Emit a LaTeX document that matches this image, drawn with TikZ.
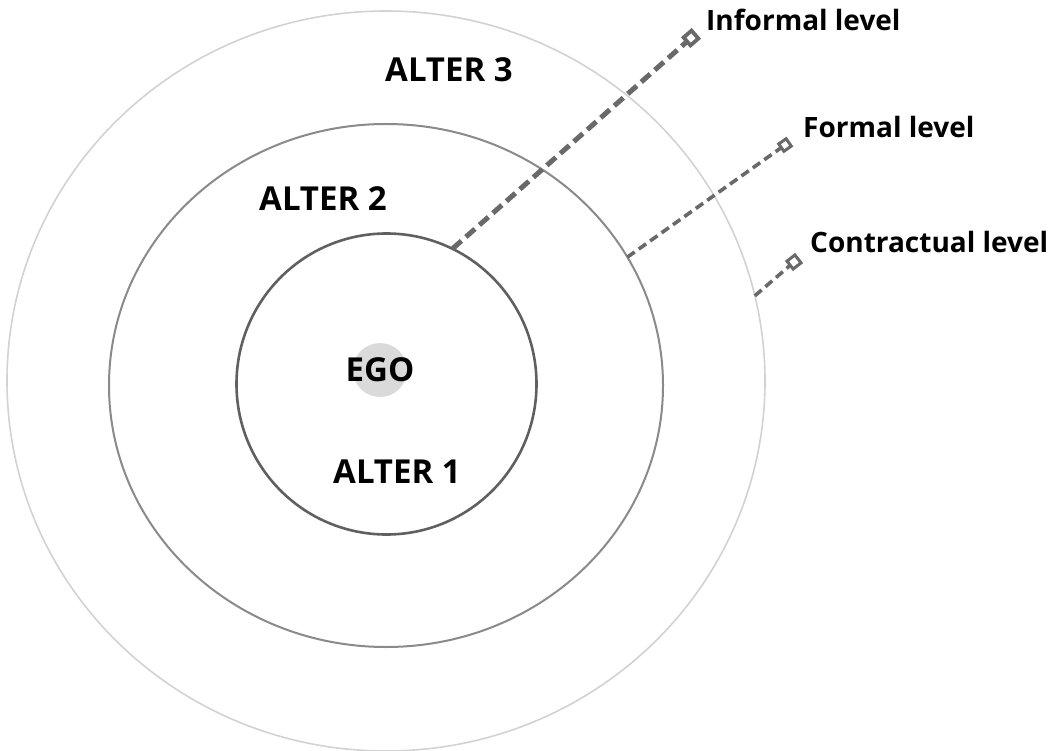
\documentclass[tikz,border=0pt]{standalone}
\usepackage{fontspec}
\setmainfont{Open Sans}
\usetikzlibrary{shapes.geometric}
\definecolor{ringA}{HTML}{D2D2D2}
\definecolor{ringB}{HTML}{8A8A8A}
\definecolor{ringC}{HTML}{606060}
\definecolor{dashcol}{HTML}{696969}
\definecolor{egofill}{HTML}{DADADA}
\tikzset{
  ring/.style={ellipse, inner sep=0pt, outer sep=0pt},
  biglabel/.style={font=\fontsize{33}{39}\selectfont\bfseries, inner sep=0pt, text=black},
  levellabel/.style={font=\fontsize{28}{33}\selectfont\bfseries, inner sep=0pt, anchor=base west, text=black},
  marker/.style={draw=dashcol, fill=white, rectangle, inner sep=0pt, outer sep=0pt},
  leader/.style={draw=dashcol, line cap=butt},
}
\begin{document}
\begin{tikzpicture}[x=1pt, y=-1pt]
\useasboundingbox (0,0) rectangle (1057,751);
% rings
\node[ring, draw=ringA, line width=1.6pt, minimum width=758pt, minimum height=740pt] (outer) at (386,381) {};
\node[ring, draw=ringB, line width=2pt, minimum width=554pt, minimum height=523pt] (middle) at (386,385.5) {};
\node[ring, draw=ringC, line width=2.6pt, minimum width=300pt, minimum height=301pt] (inner) at (386.5,384) {};
% ego disc
\node[circle, fill=egofill, minimum size=54pt, inner sep=0pt] (egodisc) at (380,370) {};
% labels
\node[biglabel] (ego) at (380,370) {EGO};
\node[biglabel] (alter1) at (397,472) {ALTER 1};
\node[biglabel] (alter2) at (323,199) {ALTER 2};
\node[biglabel] (alter3) at (449,70) {ALTER 3};
% markers
\node[marker, line width=3.8pt, minimum size=10.5pt, rotate=41] (mInf) at (691,38) {};
\node[marker, line width=3pt, minimum size=9pt, rotate=35] (mFor) at (785,145) {};
\node[marker, line width=3pt, minimum size=10pt, rotate=38] (mCon) at (794,262) {};
% leaders
\draw[leader, line width=5pt, dash pattern=on 12pt off 6pt] (inner.64.8) -- (mInf);
\draw[leader, line width=3.6pt, dash pattern=on 9pt off 5pt] (middle.28.1) -- (mFor);
\draw[leader, line width=3.6pt, dash pattern=on 9pt off 5pt] (outer.13.6) -- (mCon);
% level labels
\node[levellabel] (lInf) at (706,31) {Informal level};
\node[levellabel] (lFor) at (803,138) {Formal level};
\node[levellabel] (lCon) at (810,253) {Contractual level};
\end{tikzpicture}
\end{document}
